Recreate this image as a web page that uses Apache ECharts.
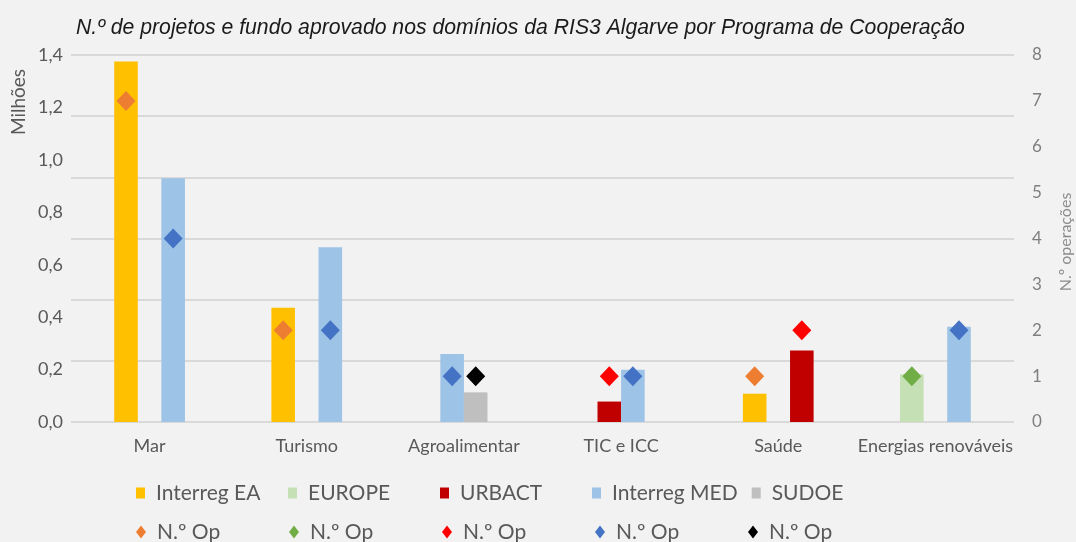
<!DOCTYPE html>
<html>
<head>
<meta charset="utf-8">
<script src="https://cdn.jsdelivr.net/npm/echarts@6/dist/echarts.min.js"></script>
<style>
  html, body { margin: 0; padding: 0; background: #f2f2f2; }
  #chart { width: 1076px; height: 542px; }
</style>
</head>
<body>
<div id="chart"></div>
<script>
// dados (fundo em milhões de euros, n.º de operações)
var categories = ['Mar', 'Turismo', 'Agroalimentar', 'TIC e ICC', 'Saúde', 'Energias renováveis'];
var programs = ['Interreg EA', 'EUROPE', 'URBACT', 'Interreg MED', 'SUDOE'];

var fundEA     = [1.375, 0.436, null, null, 0.108, null];
var fundEurope = [null, null, null, null, null, 0.182];
var fundUrbact = [null, null, null, 0.078, 0.273, null];
var fundMed    = [0.930, 0.667, 0.259, 0.199, null, 0.363];
var fundSudoe  = [null, null, 0.113, null, null, null];

var opsEA     = [7, 2, null, null, 1, null];
var opsEurope = [null, null, null, null, null, 1];
var opsUrbact = [null, null, null, 1, 2, null];
var opsMed    = [4, 2, 1, 1, null, 2];
var opsSudoe  = [null, null, 1, null, null, null];

var yTicksLeft = [0, 1.4, 0.2];
var yTicksRight = [0, 8, 1];

var fundData = [fundEA, fundEurope, fundUrbact, fundMed, fundSudoe];
var opsData = [opsEA, opsEurope, opsUrbact, opsMed, opsSudoe];
var barColors = ['#FFC000', '#C5E0B4', '#C00000', '#9DC3E6', '#BFBFBF'];
var dotColors = ['#ED7D31', '#70AD47', '#FF0000', '#4472C4', '#000000'];

// posição de cada barra dentro da categoria (em larguras de barra):
// barras de programas seguidos ficam juntas, os outros com um espaço
var barOffset = programs.map(function () { return []; });
categories.forEach(function (c, ci) {
    var present = [];
    fundData.forEach(function (arr, si) { if (arr[ci] != null) present.push(si); });
    var pos = [], p = 0;
    present.forEach(function (si, k) {
        if (k > 0) p += (si - present[k - 1] === 1) ? 1 : 2;
        pos.push(p);
    });
    var mid = p / 2;
    present.forEach(function (si, k) { barOffset[si][ci] = pos[k] - mid; });
});

function toPairs(arr) {
    var out = [];
    arr.forEach(function (v, i) { if (v != null) out.push([i, v]); });
    return out;
}

function barRender(si) {
    return function (params, api) {
        var ci = api.value(0);
        var band = api.size([1, 0])[0];
        var w = band * 0.15;
        var top = api.coord([ci, api.value(1)]);
        var base = api.coord([ci, 0]);
        var cx = top[0] + barOffset[si][ci] * w;
        return {
            type: 'rect',
            shape: { x: cx - w / 2, y: top[1], width: w, height: base[1] - top[1] },
            style: api.style()
        };
    };
}

function dotRender(si) {
    return function (params, api) {
        var ci = api.value(0);
        var band = api.size([1, 0])[0];
        var w = band * 0.15;
        var p = api.coord([ci, api.value(1)]);
        var cx = p[0] + barOffset[si][ci] * w;
        var hw = 9.5, hh = 10;
        return {
            type: 'polygon',
            shape: { points: [[cx, p[1] - hh], [cx + hw, p[1]], [cx, p[1] + hh], [cx - hw, p[1]]] },
            style: api.style()
        };
    };
}

var series = [];
programs.forEach(function (name, si) {
    series.push({
        name: name,
        type: 'custom',
        xAxisIndex: 0,
        yAxisIndex: 0,
        itemStyle: { color: barColors[si] },
        renderItem: barRender(si),
        data: toPairs(fundData[si]),
        z: 2
    });
});
programs.forEach(function (name, si) {
    series.push({
        name: 'N.º Op (' + name + ')',
        type: 'custom',
        xAxisIndex: 0,
        yAxisIndex: 1,
        itemStyle: { color: dotColors[si] },
        renderItem: dotRender(si),
        data: toPairs(opsData[si]),
        z: 5
    });
});

var labelFont = 'Lato';
var legendText = {
    fontFamily: labelFont, fontSize: 21, color: '#595959',
    width: 118, lineHeight: 24, padding: [0, 0, 0, 6]
};

var chartDom = document.getElementById('chart');
var myChart = echarts.init(chartDom);

var option = {
    backgroundColor: '#f2f2f2',
    animation: false,
    title: {
        text: 'N.º de projetos e fundo aprovado nos domínios da RIS3 Algarve por Programa de Cooperação',
        left: 71,
        top: 13,
        textStyle: {
            fontFamily: 'Liberation Sans', fontStyle: 'italic', fontWeight: 'normal',
            fontSize: 21.2, color: '#1a1a1a'
        }
    },
    grid: { left: 71, right: 62, top: 55, bottom: 120 },
    legend: [{
        left: 131, top: 476, itemWidth: 9, itemHeight: 11, itemGap: 14,
        selectedMode: false,
        data: programs.map(function (n) { return { name: n, icon: 'rect' }; }),
        textStyle: legendText
    }, {
        left: 131, top: 515, itemWidth: 10, itemHeight: 13, itemGap: 14,
        selectedMode: false,
        data: programs.map(function (n) { return { name: 'N.º Op (' + n + ')', icon: 'diamond' }; }),
        formatter: function (name) { return name.split(' (')[0]; },
        textStyle: legendText
    }],
    xAxis: [{
        type: 'category',
        data: categories,
        axisLine: { show: false },
        axisTick: { show: false },
        axisLabel: { interval: 0, fontFamily: labelFont, fontSize: 18, color: '#595959', margin: 15 }
    }],
    yAxis: [{
        type: 'value',
        min: yTicksLeft[0], max: yTicksLeft[1], interval: yTicksLeft[2],
        position: 'left',
        splitLine: { show: false },
        axisLine: { show: false },
        axisTick: { show: false },
        axisLabel: {
            fontFamily: labelFont, fontSize: 18, color: '#595959', margin: 8,
            formatter: function (v) { return v.toFixed(1).replace('.', ','); }
        }
    }, {
        type: 'value',
        min: yTicksRight[0], max: yTicksRight[1], interval: yTicksRight[2],
        position: 'right',
        splitLine: { show: false },
        axisLine: { show: false },
        axisTick: { show: false },
        axisLabel: { fontFamily: labelFont, fontSize: 17, color: '#7f7f7f', margin: 18 }
    }, {
        // só as linhas de grelha
        type: 'value',
        min: 0, max: 6, interval: 1,
        position: 'left',
        axisLine: { show: false },
        axisTick: { show: false },
        axisLabel: { show: false },
        splitLine: { show: true, lineStyle: { color: '#d9d9d9', width: 2 } }
    }],
    graphic: [{
        type: 'text',
        x: 19, y: 102,
        rotation: Math.PI / 2,
        style: {
            text: 'Milhões', fontFamily: labelFont, fontSize: 19, fill: '#595959',
            align: 'center', verticalAlign: 'middle'
        }
    }, {
        type: 'text',
        x: 1066, y: 242,
        rotation: Math.PI / 2,
        style: {
            text: 'N.º operações', fontFamily: labelFont, fontSize: 16, fill: '#8c8c8c',
            align: 'center', verticalAlign: 'middle'
        }
    }],
    series: series
};

myChart.setOption(option);

window.addEventListener('resize', function () {
    myChart.resize();
});
</script>
</body>
</html>
